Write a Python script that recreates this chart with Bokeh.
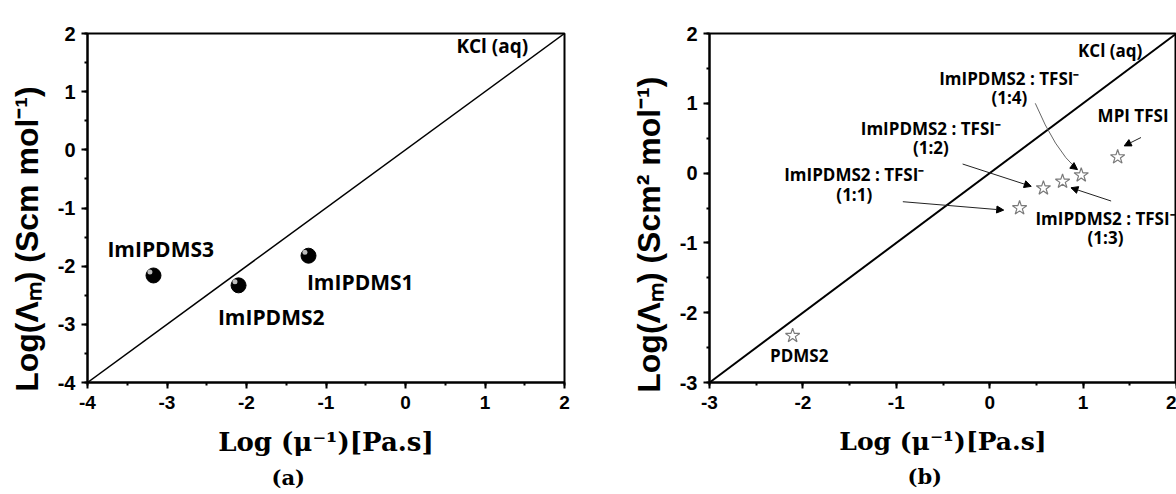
from bokeh.plotting import figure
from bokeh.layouts import row
from bokeh.models import (Range1d, SingleIntervalTicker, Arrow, NormalHead, Title,
                          PrintfTickFormatter)
from bokeh.core.properties import value
from bokeh.transform import dodge
from bokeh.embed import file_html
from bokeh.resources import INLINE

# ---- panel (a): ImIPDMS series ----
a_names = ["ImIPDMS3", "ImIPDMS2", "ImIPDMS1"]
a_log_fluidity = [-3.17, -2.10, -1.22]
a_log_molar_cond = [-2.16, -2.33, -1.82]
a_label_x = [-3.75, -2.36, -1.24]
a_label_y = [-1.70, -2.88, -2.28]

# ---- panel (b): ImIPDMS2 : TFSI- mixtures and references ----
b_names = ["PDMS2", "(1:1)", "(1:2)", "(1:3)", "(1:4)", "MPI TFSI"]
b_log_fluidity = [-2.11, 0.32, 0.575, 0.78, 0.98, 1.37]
b_log_molar_cond = [-2.33, -0.50, -0.216, -0.12, -0.03, 0.23]

# KCl (aq) ideal Walden line
a_kcl = [-4, 2]
b_kcl = [-3, 2]

TICK_FONT = "Liberation Sans"
NOTE_FONT = "Open Sans"
PAD = "\u00a0" * 6   # keeps the rotated title slightly below the frame centre


def style_axes(p, ytitle, xtitle_size):
    p.xgrid.visible = False
    p.ygrid.visible = False
    p.outline_line_color = "black"
    p.outline_line_width = 2
    p.background_fill_color = "white"
    p.border_fill_color = "white"
    for ax in (p.xaxis[0], p.yaxis[0]):
        ax.ticker = SingleIntervalTicker(interval=1, num_minor_ticks=2)
        ax.formatter = PrintfTickFormatter(format="%d")
        ax.axis_line_width = 2
        ax.axis_line_color = "black"
        ax.major_tick_line_width = 2
        ax.minor_tick_line_width = 2
        ax.major_tick_line_color = "black"
        ax.minor_tick_line_color = "black"
        ax.major_tick_in = 0
        ax.major_tick_out = 6
        ax.minor_tick_in = 0
        ax.minor_tick_out = 3
        ax.major_label_text_font = TICK_FONT
        ax.major_label_text_font_style = "bold"
        ax.major_label_text_color = "black"
        ax.axis_label_text_color = "black"
        ax.axis_label_text_font_style = "bold"
    p.xaxis.major_label_text_font_size = "19px"
    p.yaxis.major_label_text_font_size = "20px"
    p.xaxis.major_label_standoff = 7
    p.yaxis.major_label_standoff = 6
    p.xaxis.axis_label = "Log (\u03bc\u207b\u00b9)[Pa.s]"
    p.xaxis.axis_label_text_font = "DejaVu Serif"
    p.xaxis.axis_label_text_font_size = xtitle_size
    p.xaxis.axis_label_standoff = 15
    p.yaxis.axis_label = ytitle + PAD
    p.yaxis.axis_label_text_font = TICK_FONT
    p.yaxis.axis_label_text_font_size = "32px"
    p.yaxis.axis_label_standoff = 10


def caption(p, text, offset):
    p.add_layout(Title(text=text, align="left", offset=offset, standoff=6,
                       text_font="DejaVu Serif", text_font_style="bold",
                       text_font_size="21px", text_color="black"), "below")


# ================= panel (a) =================
pa = figure(width=600, height=494, x_range=Range1d(-4, 2), y_range=Range1d(-4, 2),
            output_backend="svg", toolbar_location=None,
            min_border_left=87, min_border_right=36, min_border_top=25,
            min_border_bottom=112)
style_axes(pa, "Log(\u039b\u2098) (Scm  mol\u207b\u00b9)", "26px")

pa.line(a_kcl, a_kcl, line_color="black", line_width=1.5)
src_a = dict(x=a_log_fluidity, y=a_log_molar_cond)
pa.scatter(x="x", y="y", source=src_a, size=15, fill_color="black", line_color="black")
pa.scatter(x=dodge("x", -0.045), y=dodge("y", 0.06), source=src_a, size=5,
           fill_color="#d0d0d0", line_color=None, fill_alpha=0.9)
pa.text(x=a_label_x, y=a_label_y, text=a_names, text_font=value(NOTE_FONT),
        text_font_style="bold", text_font_size="21px", text_align="left",
        text_baseline="middle", text_color="black")
pa.text(x=[0.64], y=[1.79], text=["KCl (aq)"], text_font=value(NOTE_FONT),
        text_font_style="bold", text_font_size="19px", text_align="left",
        text_baseline="middle", text_color="black")
caption(pa, "(a)", 184)

# ================= panel (b) =================
pb = figure(width=576, height=494, x_range=Range1d(-3, 2), y_range=Range1d(-3, 2),
            output_backend="svg", toolbar_location=None,
            min_border_left=109, min_border_right=0, min_border_top=33,
            min_border_bottom=111)
style_axes(pb, "Log(\u039b\u2098) (Scm\u00b2 mol\u207b\u00b9)", "25px")

pb.line(b_kcl, b_kcl, line_color="black", line_width=2)
pb.scatter(x=b_log_fluidity, y=b_log_molar_cond, marker="star", size=15,
           fill_color="white", line_color="#7a7a7a", line_width=1.2)

mix = "ImIPDMS2 : TFSI\u207b"
note_x = [0.21, 0.21, -0.63, -0.63, -1.45, -1.45, 1.24, 1.24, 1.535, -2.04, 1.29]
note_y = [1.36, 1.08, 0.64, 0.36, -0.02, -0.30, -0.65, -0.92, 0.82, -2.61, 1.76]
note_t = [mix, "(1:4)", mix, "(1:2)", mix, "(1:1)", mix, "(1:3)", "MPI TFSI", "PDMS2", "KCl (aq)"]
pb.text(x=note_x, y=note_y, text=note_t, text_font=value(NOTE_FONT),
        text_font_style="bold", text_font_size="17px", text_align="center",
        text_baseline="middle", text_color="black")

# pointer arrows from the notes to their points
pointers = [
    (-0.93, -0.41, 0.15, -0.53),
    (-0.29, 0.13, 0.445, -0.19),
    (1.30, -0.40, 0.87, -0.21),
    (1.62, 0.51, 1.44, 0.39),
]
for x0, y0, x1, y1 in pointers:
    pb.add_layout(Arrow(x_start=x0, y_start=y0, x_end=x1, y_end=y1,
                        line_color="#222222", line_width=1,
                        end=NormalHead(size=7, fill_color="black", line_color="black")))

# curved pointer for the 1:4 mixture
pb.quadratic(x0=[0.488], y0=[1.0], x1=[0.93], y1=[0.06], cx=[0.70], cy=[0.33],
             line_color="#666666", line_width=1)
pb.add_layout(Arrow(x_start=0.89, y_start=0.10, x_end=0.94, y_end=0.05,
                    line_color="#666666", line_width=1,
                    end=NormalHead(size=7, fill_color="black", line_color="black")))
caption(pb, "(b)", 198)

layout = row(pa, pb, spacing=0)
open("out.html", "w").write(file_html(layout, INLINE))
